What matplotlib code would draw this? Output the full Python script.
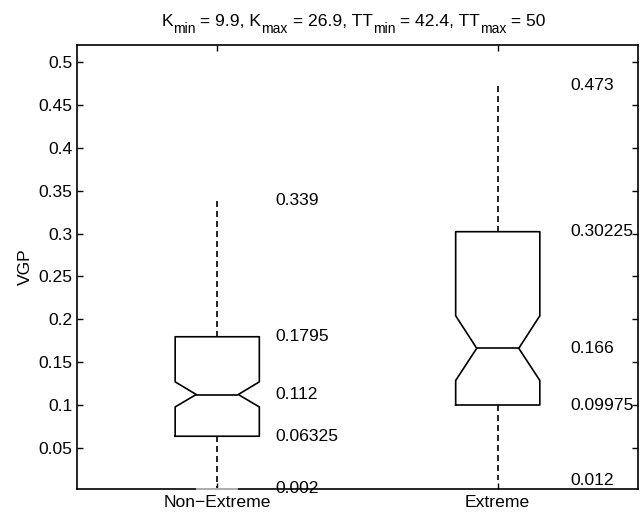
import matplotlib
matplotlib.use("Agg")
import matplotlib.pyplot as plt
from matplotlib.transforms import IdentityTransform

plt.rcParams['font.family'] = ['Liberation Sans', 'DejaVu Sans']

categories = ["Non\u2212Extreme", "Extreme"]
whis_lo = [0.002, 0.012]
q1 = [0.06325, 0.09975]
med = [0.112, 0.166]
q3 = [0.1795, 0.30225]
whis_hi = [0.339, 0.473]
notch_lo = [0.0975, 0.1284]
notch_hi = [0.1268, 0.2040]
yticks = [0.05, 0.1, 0.15, 0.2, 0.25, 0.3, 0.35, 0.4, 0.45, 0.5]
# title pieces: (text, is_subscript)
title_parts = [("K", False), ("min", True), (" = 9.9, K", False), ("max", True),
               (" = 26.9, TT", False), ("min", True), (" = 42.4, TT", False),
               ("max", True), (" = 50", False)]

FS = 12.6
SUB_FS = 10.0
W, H = 641, 515
fig = plt.figure(figsize=(W/100, H/100), dpi=100)
ax = fig.add_axes([77/W, 1 - 489/H, (638-77)/W, (489-45)/H])

stats = []
for i in range(2):
    stats.append(dict(med=med[i], q1=q1[i], q3=q3[i], cilo=notch_lo[i], cihi=notch_hi[i],
                      whislo=whis_lo[i], whishi=whis_hi[i], fliers=[]))

lw = 1.2
ax.bxp(stats, positions=[1, 2], widths=0.3, shownotches=True, showcaps=False,
       showfliers=False,
       boxprops=dict(color='black', linewidth=lw),
       medianprops=dict(color='black', linewidth=lw),
       whiskerprops=dict(color='black', linewidth=lw, linestyle=(0, (3.6, 2.4))))

# light segment at lower whisker end of first group (on the axis line)
ax.plot([1 - 0.075, 1 + 0.075], [whis_lo[0], whis_lo[0]], color='#c8c8c8',
        linewidth=lw, clip_on=False, zorder=5, solid_capstyle='butt')

ax.set_xlim(0.5, 2.5)
ax.set_ylim(0.0016, 0.5204)
ax.set_xticks([1, 2])
ax.set_xticklabels(categories)
ax.set_yticks(yticks)
ax.set_yticklabels([f"{v:g}" for v in yticks])
ax.tick_params(direction='in', length=6*0.72, width=1.0, labelsize=FS,
               top=True, right=True, pad=4)
ax.tick_params(axis='y', pad=3.5)
for s in ax.spines.values():
    s.set_linewidth(1.2)

ax.set_ylabel("VGP", fontsize=FS, labelpad=4)

label_x = [1.208, 2.260]
for i in range(2):
    for v in [whis_hi[i], q3[i], med[i], q1[i], whis_lo[i]]:
        ax.text(label_x[i], v, f"{v:g}", fontsize=FS, ha='left', va='center')

# title built from pieces with deep subscripts (MATLAB style)
renderer = fig.canvas.get_renderer()
base_y = H - 26
sub_y = base_y - 7.3
texts = []
total = 0.0
for s, sub in title_parts:
    t = fig.text(0, 0, s, fontsize=SUB_FS if sub else FS, transform=IdentityTransform(),
                 va='baseline', ha='left')
    w = t.get_window_extent(renderer).width
    texts.append((t, w, sub))
    total += w
x = 353.5 - total / 2
for t, w, sub in texts:
    t.set_position((x, sub_y if sub else base_y))
    x += w

fig.savefig("out.png", dpi=100)
